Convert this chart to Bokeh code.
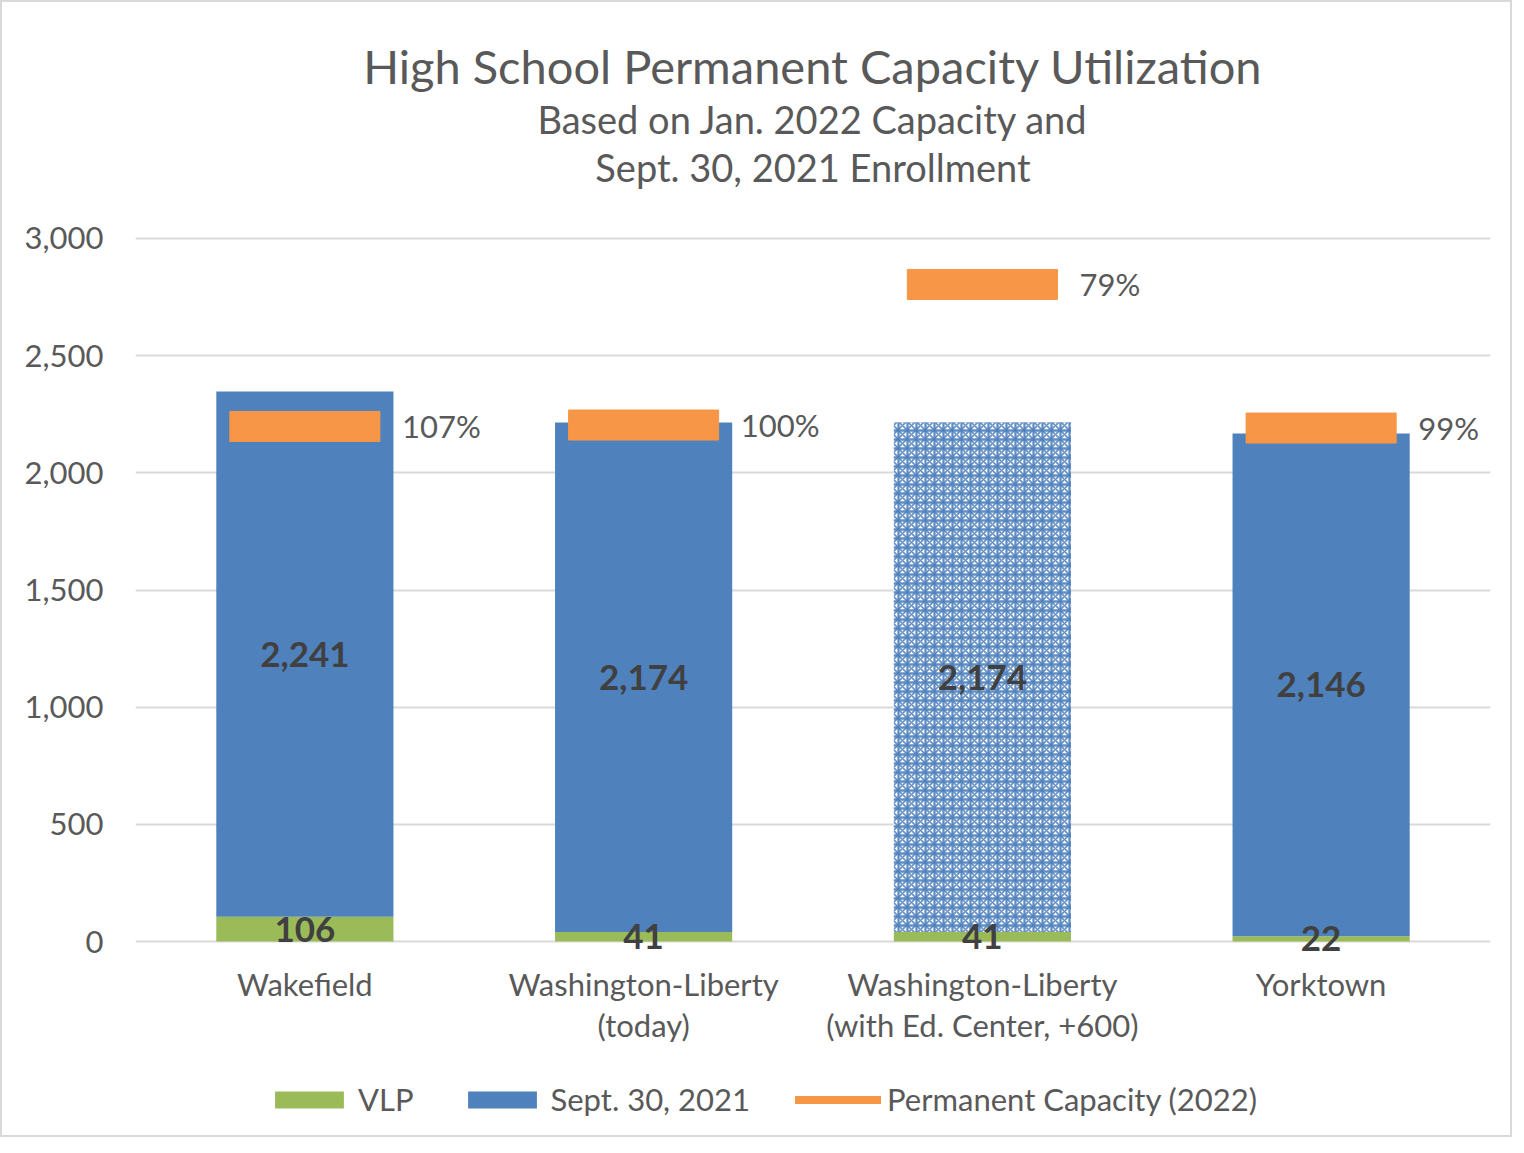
from bokeh.plotting import figure
from bokeh.models import (ColumnDataSource, Legend, LegendItem, Title, FactorRange,
                          NumeralTickFormatter, Range1d)
from bokeh.transform import dodge
from bokeh.core.properties import value
from bokeh.embed import file_html
from bokeh.resources import INLINE

# ---------------- data ----------------
schools = ["Wakefield",
           "Washington-Liberty\n(today)",
           "Washington-Liberty\n(with Ed. Center, +600)",
           "Yorktown"]
vlp = [106, 41, 41, 22]
sept_2021 = [2241, 2174, 2174, 2146]
capacity_2022 = [2198, 2204, 2804, 2191]
utilization = ["107%", "100%", "79%", "99%"]
y_ticks = [0, 500, 1000, 1500, 2000, 2500, 3000]

title_main = "High School Permanent Capacity Utilization"
title_sub1 = "Based on Jan. 2022 Capacity and"
title_sub2 = "Sept. 30, 2021 Enrollment"

# ---------------- styles / layout ----------------
FONT = "Lato"
BLUE = "#4f81bd"
GREEN = "#9bbb59"
ORANGE = "#f79646"
TXT = "#595959"
DARK = "#404040"
GRID = "#d9d9d9"

HATCHED = 2  # index of the projected (patterned) bar
# frame extends above the 3,000 line and below zero so that the category
# labels and legend can sit inside it
Y_LO, Y_HI = -806.5, 3209.1

tops = [v + s for v, s in zip(vlp, sept_2021)]
mid_blue = [v + s / 2 for v, s in zip(vlp, sept_2021)]
mid_green = [v / 2 for v in vlp]
fmt = [f"{s:,}" for s in sept_2021]

src_all = ColumnDataSource(dict(school=schools, vlp=vlp, top=tops, cap=capacity_2022,
                                util=utilization, mid_blue=mid_blue, mid_green=mid_green,
                                blue_lbl=fmt, green_lbl=[str(v) for v in vlp],
                                zero=[0] * len(schools)))
solid_idx = [i for i in range(len(schools)) if i != HATCHED]
src_solid = ColumnDataSource(dict(school=[schools[i] for i in solid_idx],
                                  vlp=[vlp[i] for i in solid_idx],
                                  top=[tops[i] for i in solid_idx]))
src_hatch = ColumnDataSource(dict(school=[schools[HATCHED]], vlp=[vlp[HATCHED]],
                                  top=[tops[HATCHED]]))

p = figure(x_range=FactorRange(*schools), y_range=Range1d(Y_LO, Y_HI),
           frame_width=1355, frame_height=941, output_backend="svg", toolbar_location=None,
           min_border_left=133, min_border_right=20, min_border_top=187, min_border_bottom=5)
p.background_fill_color = "white"
p.border_fill_color = "white"
p.outline_line_color = None

# titles (added bottom-up)
p.add_layout(Title(text=title_sub2, text_font=FONT, text_font_size="38px",
                   text_font_style="normal", text_color=TXT, align="center",
                   standoff=0), "above")
p.add_layout(Title(text=title_sub1, text_font=FONT, text_font_size="38px",
                   text_font_style="normal", text_color=TXT, align="center",
                   standoff=0), "above")
p.add_layout(Title(text=title_main, text_font=FONT, text_font_size="47px",
                   text_font_style="normal", text_color=TXT, align="center",
                   standoff=0), "above")

# bars
W = 0.523
r_green = p.vbar(x="school", bottom=0, top="vlp", width=W, source=src_all,
                 fill_color=GREEN, line_color=None)
r_blue = p.vbar(x="school", bottom="vlp", top="top", width=W, source=src_solid,
                fill_color=BLUE, line_color=None)
p.vbar(x="school", bottom="vlp", top="top", width=W, source=src_hatch,
       fill_color="white", line_color=None, hatch_pattern="cross",
       hatch_color=BLUE, hatch_scale=9, hatch_weight=2.3, hatch_alpha=0.9)
p.vbar(x="school", bottom="vlp", top="top", width=W, source=src_hatch,
       fill_alpha=0, line_color=None, hatch_pattern="diagonal_cross",
       hatch_color=BLUE, hatch_scale=9, hatch_weight=1.9, hatch_alpha=0.85)

# capacity markers
p.rect(x="school", y="cap", width=0.443, height=30, height_units="screen",
       source=src_all, fill_color=ORANGE, line_color=ORANGE, line_width=1)
r_cap_leg = p.line(x=[schools[0], schools[0]], y=[float("nan"), float("nan")],
                   line_color=ORANGE, line_width=8, line_cap="round")

# data labels
p.text(x="school", y="mid_blue", text="blue_lbl", source=src_all,
       text_font=value(FONT), text_font_size="35px", text_font_style="bold",
       text_color=DARK, text_align="center", text_baseline="middle")
p.text(x="school", y="mid_green", text="green_lbl", source=src_all,
       text_font=value(FONT), text_font_size="35px", text_font_style="bold",
       text_color=DARK, text_align="center", text_baseline="middle")
p.text(x=dodge("school", 0.287, range=p.x_range), y="cap", text="util", source=src_all,
       text_font=value(FONT), text_font_size="31px", text_color=TXT,
       text_align="left", text_baseline="middle")

# category labels (below the zero line)
p.text(x="school", y="zero", text="school", source=src_all, y_offset=23,
       text_font=value(FONT), text_font_size="31px", text_color=TXT,
       text_align="center", text_baseline="top", text_line_height=1.09)

# axes / grid
p.xaxis.visible = False
p.xgrid.grid_line_color = None
p.ygrid.grid_line_color = GRID
p.ygrid.grid_line_width = 2
p.yaxis.ticker = y_ticks
p.yaxis.formatter = NumeralTickFormatter(format="0,0")
ya = p.yaxis[0]
ya.axis_line_color = None
ya.major_tick_line_color = None
ya.minor_tick_line_color = None
ya.major_label_text_font = FONT
ya.major_label_text_font_size = "31px"
ya.major_label_text_color = TXT
ya.major_label_standoff = 26

legend = Legend(items=[LegendItem(label="VLP", renderers=[r_green]),
                       LegendItem(label="Sept. 30, 2021", renderers=[r_blue]),
                       LegendItem(label="Permanent Capacity (2022)", renderers=[r_cap_leg])],
                orientation="horizontal", location=(131, 12),
                label_text_font=FONT, label_text_font_size="31px", label_text_color=TXT,
                glyph_width=86, glyph_height=21, label_standoff=6, spacing=45,
                border_line_color=None, background_fill_alpha=0, margin=0, padding=0)
p.add_layout(legend, "center")

p.styles = {"border": "2px solid #d9d9d9"}

open("out.html", "w").write(file_html(p, INLINE))
